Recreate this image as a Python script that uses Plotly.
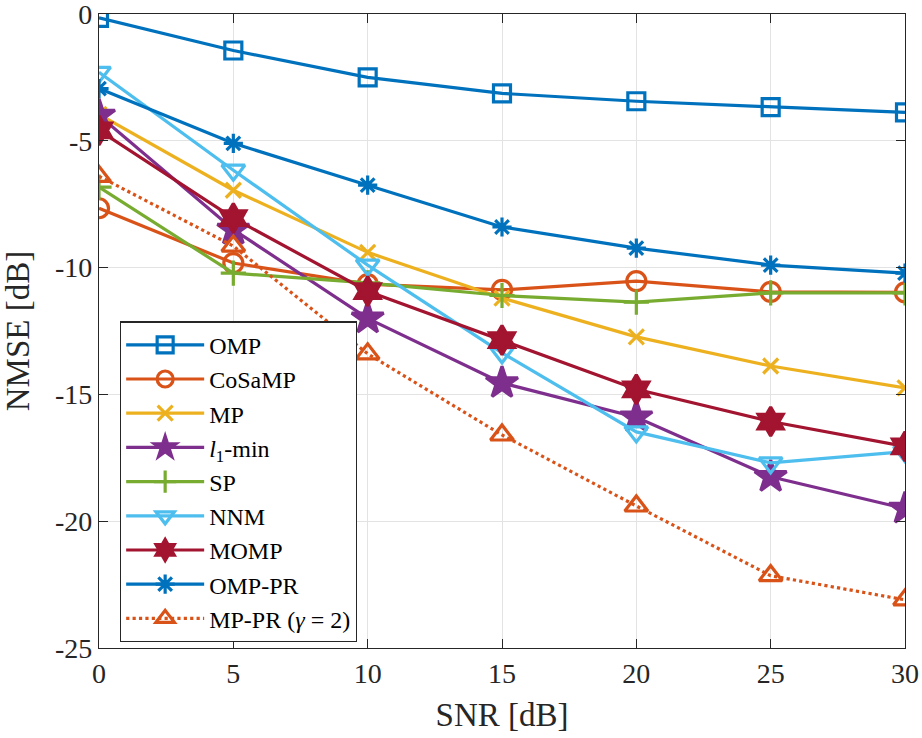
import plotly.graph_objects as go

snr = [0, 5, 10, 15, 20, 25, 30]

omp = [-0.15, -1.44, -2.5, -3.13, -3.44, -3.67, -3.88]
cosamp = [-7.66, -9.82, -10.65, -10.88, -10.53, -10.96, -10.98]
mp = [-3.96, -6.95, -9.4, -11.2, -12.73, -13.88, -14.74]
l1min = [-4.0, -8.5, -12.0, -14.55, -15.9, -18.25, -19.5]
sp = [-6.83, -10.22, -10.6, -11.1, -11.36, -11.0, -11.0]
nnm = [-2.3, -6.16, -9.9, -13.36, -16.48, -17.7, -17.26]
momp = [-4.59, -8.05, -10.93, -12.86, -14.8, -16.07, -17.05]
omp_pr = [-2.94, -5.1, -6.75, -8.4, -9.23, -9.9, -10.22]
mp_pr = [-6.4, -9.15, -13.4, -16.6, -19.4, -22.15, -23.1]

xticks = [0, 5, 10, 15, 20, 25, 30]
yticks = [0, -5, -10, -15, -20, -25]
ytick_labels = ["0", "-5", "-10", "-15", "-20", "-25"]

series = [
    ("OMP", omp, "#0072BD", "square-open", "solid", 17),
    ("CoSaMP", cosamp, "#D95319", "circle-open", "solid", 19),
    ("MP", mp, "#EDB120", "x-thin-open", "solid", 15),
    ("<i>l</i><sub>1</sub>-min", l1min, "#7E2F8E", "star", "solid", 24),
    ("SP", sp, "#77AC30", "cross-thin-open", "solid", 18),
    ("NNM", nnm, "#4DBEEE", "triangle-down-open", "solid", 20),
    ("MOMP", momp, "#A2142F", "hexagram", "solid", 22),
    ("OMP-PR", omp_pr, "#0072BD", "asterisk-open", "solid", 16),
    ("MP-PR (<i>γ</i> = 2)", mp_pr, "#D95319", "triangle-up-open", "dot", 20),
]

fig = go.Figure()
for name, vals, color, sym, dash, size in series:
    fig.add_trace(go.Scatter(
        x=snr, y=vals, name=name, mode="lines+markers",
        line=dict(color=color, width=3.2, dash=dash),
        marker=dict(symbol=sym, size=size, color=color,
                    line=dict(color=color, width=3.2)),
    ))

font = "Liberation Serif"
axis_common = dict(
    showline=True, linecolor="#262626", linewidth=1.2, mirror="ticks",
    ticks="inside", ticklen=9, tickcolor="#262626", tickwidth=1.2,
    showgrid=True, gridcolor="#e3e3e3", gridwidth=1, zeroline=False,
    tickfont=dict(family=font, size=28, color="#262626"),
    ticklabeloverflow="allow", automargin=False,
)
fig.update_layout(
    width=922, height=738,
    margin=dict(l=99, r=17, t=14, b=90),
    paper_bgcolor="white", plot_bgcolor="white",
    font=dict(family=font, color="#262626"),
    xaxis=dict(range=[0, 30], tickvals=xticks,
               title=dict(text="SNR [dB]", font=dict(family=font, size=33)),
               **axis_common),
    yaxis=dict(range=[-25, 0], tickvals=yticks, ticktext=ytick_labels,
               title=dict(text="NMSE [dB]", font=dict(family=font, size=33)),
               **axis_common),
    legend=dict(x=0.026, y=0.515, xanchor="left", yanchor="top",
                bgcolor="white", bordercolor="#262626", borderwidth=1.2,
                font=dict(family=font, size=24, color="black"),
                itemwidth=78, tracegroupgap=0),
    showlegend=True,
)
fig.write_html("out.html")
